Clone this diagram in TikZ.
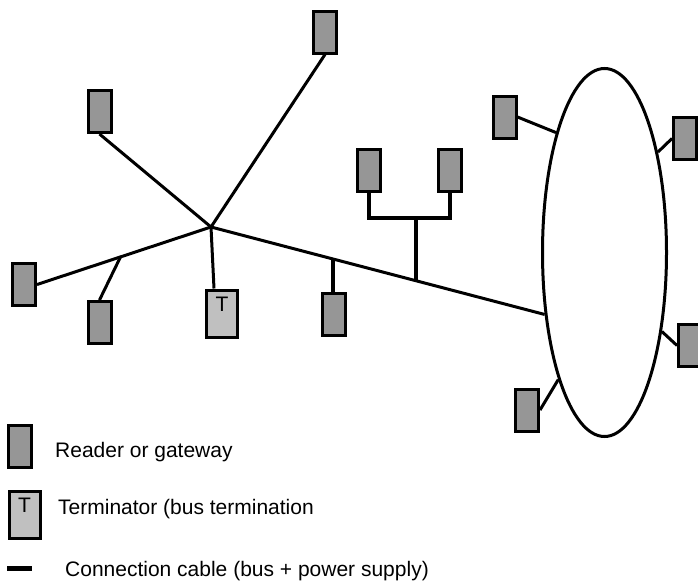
\documentclass[tikz,border=0pt]{standalone}
\usepackage{fontspec}
\setmainfont{Liberation Sans}
\usetikzlibrary{calc,shapes.geometric}
\definecolor{devgray}{HTML}{969696}
\definecolor{termgray}{HTML}{C0C0C0}

\begin{document}
\begin{tikzpicture}[x=1pt,y=-1pt,
    font=\fontsize{21}{25}\selectfont,
    reader/.style={draw=black,line width=3pt,fill=devgray,inner sep=0pt,
      minimum width=23pt,minimum height=42pt},
    termbox/.style={draw=black,line width=3pt,fill=termgray,inner xsep=0pt,inner ysep=1pt,
      minimum width=31pt,text height=20.5pt,text depth=24.5pt},
    keytext/.style={anchor=base west,inner sep=0pt},
    cable/.style={line width=3pt},
    tapline/.style={line width=4pt}
  ]
  \useasboundingbox (0,0) rectangle (698,581);
  \clip (0,0) rectangle (698,581);

  % star point and ring
  \coordinate (hub) at (211,227);
  \node[ellipse,draw=black,line width=3pt,minimum width=124pt,minimum height=368pt,inner sep=0pt] (ring) at (604.5,252.5) {};

  % readers / gateways
  \node[reader] (top) at (325,32) {};
  \node[reader] (upleft) at (99.5,111.5) {};
  \node[reader] (left) at (24,284.5) {};
  \node[reader] (lowleft) at (99.5,322.5) {};
  \node[termbox] (term) at (222,313.5) {T};
  \node[reader] (mid) at (334,314) {};
  \node[reader] (pairl) at (368.5,170.5) {};
  \node[reader] (pairr) at (450,170.5) {};
  \node[reader] (ringa) at (504.5,117) {};
  \node[reader] (ringb) at (685,138.5) {};
  \node[reader] (ringc) at (690,345.5) {};
  \node[reader] (ringd) at (527,410) {};

  % cables
  \draw[cable] (hub) -- (top.south);
  \draw[cable] (hub) -- (upleft.south);
  \draw[cable] (hub) -- (left.east);
  \coordinate (split) at ($(hub)!0.52!(left.east)$);
  \draw[cable] (split) -- (lowleft.north);
  \draw[cable] (hub) -- ([xshift=-8pt]term.north);
  \draw[cable] (hub) -- (ring.226);
  \coordinate (tapa) at ($(hub)!0.367!(ring.226)$);
  \coordinate (tapb) at ($(hub)!0.614!(ring.226)$);
  \coordinate (fork) at (tapb |- 0,218);
  \draw[tapline] (tapa) -- (tapa |- mid.north);
  \draw[tapline] (pairl.south) |- (fork) -| (pairr.south);
  \draw[tapline] (fork) -- (tapb);
  \draw[cable] (ringa.east) -- (ring.112);
  \draw[cable] (ring.62) -- (ringb.west);
  \draw[cable] (ring.-54) -- (ringc.west);
  \draw[cable] (ringd.east) -- (ring.250);

  % legend
  \node[reader] (keyreader) at (20,446) {};
  \node[keytext] (keyreadertxt) at (55,457) {Reader or gateway};
  \node[termbox] (keyterm) at (24.5,514.5) {T};
  \node[keytext] (keytermtxt) at (58,514) {Terminator (bus termination};
  \node[fill=black,inner sep=0pt,minimum width=25pt,minimum height=5pt] (keycable) at (19.5,568.5) {};
  \node[keytext] (keycabletxt) at (65,576) {Connection cable (bus + power supply)};
\end{tikzpicture}
\end{document}
